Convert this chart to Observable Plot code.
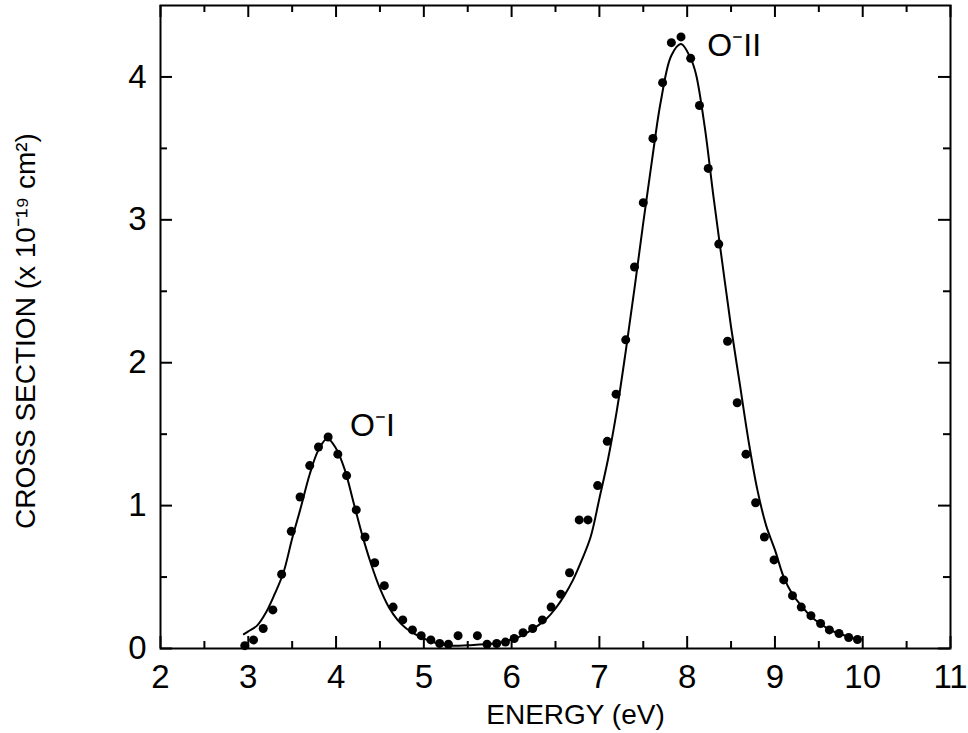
<!DOCTYPE html>
<html><head><meta charset="utf-8">
<script src="https://cdn.jsdelivr.net/npm/d3@7"></script>
<script src="https://cdn.jsdelivr.net/npm/@observablehq/plot@0.6"></script>
<style>body{margin:0;background:#fff;}</style>
</head><body><div id="chart"></div>
<script>
// Measured points (energy in eV, cross section in 1e-19 cm^2)
const dotEnergy = [2.96,3.06,3.17,3.28,3.38,3.49,3.59,3.70,3.80,3.91,4.02,4.12,4.23,4.33,4.44,4.55,4.65,4.76,4.87,4.97,5.08,5.18,5.28,5.39,5.61,5.72,5.83,5.93,6.03,6.13,6.24,6.35,6.45,6.56,6.66,6.77,6.87,6.98,7.09,7.19,7.30,7.40,7.50,7.61,7.72,7.82,7.93,8.04,8.14,8.24,8.36,8.46,8.57,8.67,8.78,8.88,8.99,9.10,9.20,9.30,9.41,9.52,9.62,9.73,9.84,9.94];
const dotSigma  = [0.02,0.06,0.14,0.27,0.52,0.82,1.06,1.28,1.41,1.48,1.36,1.21,0.97,0.78,0.60,0.44,0.29,0.20,0.13,0.09,0.06,0.035,0.03,0.09,0.09,0.03,0.035,0.045,0.07,0.11,0.14,0.20,0.29,0.38,0.53,0.90,0.90,1.14,1.45,1.78,2.16,2.67,3.12,3.57,3.96,4.24,4.28,4.13,3.80,3.36,2.83,2.15,1.72,1.36,1.02,0.78,0.62,0.48,0.37,0.29,0.23,0.175,0.13,0.105,0.077,0.063];

// Fitted curve
const fitEnergy = [2.95,3.0,3.1,3.2,3.3,3.4,3.5,3.6,3.7,3.8,3.9,4.0,4.1,4.2,4.3,4.4,4.5,4.6,4.7,4.8,4.9,5.0,5.1,5.2,5.3,5.4,5.5,5.6,5.7,5.8,5.9,6.0,6.1,6.2,6.3,6.4,6.5,6.6,6.7,6.8,6.9,7.0,7.1,7.2,7.3,7.4,7.5,7.6,7.7,7.82,7.93,8.04,8.1,8.2,8.3,8.4,8.5,8.6,8.7,8.8,8.9,9.0,9.1,9.2,9.3,9.4,9.5,9.6,9.7,9.8,9.9,9.97];
const fitSigma  = [0.10,0.12,0.16,0.25,0.38,0.53,0.77,0.99,1.22,1.39,1.47,1.40,1.25,1.02,0.79,0.59,0.42,0.29,0.20,0.14,0.10,0.07,0.045,0.03,0.02,0.02,0.022,0.026,0.03,0.035,0.045,0.065,0.085,0.12,0.16,0.21,0.28,0.37,0.48,0.62,0.78,1.05,1.33,1.67,2.08,2.52,2.98,3.42,3.83,4.15,4.23,4.13,4.02,3.65,3.16,2.70,2.25,1.85,1.45,1.11,0.86,0.69,0.50,0.38,0.30,0.23,0.18,0.14,0.11,0.09,0.07,0.056];

// Ticks
const xMajorTicks = [2,3,4,5,6,7,8,9,10,11];
const xMinorTicks = [2.5,3.5,4.5,5.5,6.5,7.5,8.5,9.5,10.5];
const yMajorTicks = [0,1,2,3,4];
const yMinorTicks = [0.5,1.5,2.5,3.5];

// Labels
const xLabel = "ENERGY (eV)";
const yLabel = "CROSS SECTION (x 10\u207B\u00B9\u2079 cm\u00B2)";
const annotationText = ["O\u207BI", "O\u207BII"];
const annotationEnergy = [4.16, 8.23];
const annotationSigma = [1.56, 4.22];

const dots = dotEnergy.map((e, i) => ({e, s: dotSigma[i]}));
const fit = fitEnergy.map((e, i) => ({e, s: fitSigma[i]}));
const notes = annotationText.map((t, i) => ({t, e: annotationEnergy[i], s: annotationSigma[i]}));

const W = 968, H = 733, mt = 5, mb = 85, ml = 160, mr = 18;
const innerH = H - mt - mb, innerW = W - ml - mr;
const major = 12, minor = 7;

const chart = Plot.plot({
  width: W, height: H,
  marginTop: mt, marginBottom: mb, marginLeft: ml, marginRight: mr,
  x: {domain: [2, 11]},
  y: {domain: [0, 4.5]},
  style: {fontFamily: "'Liberation Sans', Arial, sans-serif", color: "#000", background: "#fff"},
  marks: [
    Plot.ruleX(xMajorTicks, {x: d => d, insetTop: innerH - major, strokeWidth: 2}),
    Plot.ruleX(xMajorTicks, {x: d => d, insetBottom: innerH - major, strokeWidth: 2}),
    Plot.ruleX(xMinorTicks, {x: d => d, insetTop: innerH - minor, strokeWidth: 2}),
    Plot.ruleX(xMinorTicks, {x: d => d, insetBottom: innerH - minor, strokeWidth: 2}),
    Plot.ruleY(yMajorTicks, {y: d => d, insetRight: innerW - major, strokeWidth: 2}),
    Plot.ruleY(yMajorTicks, {y: d => d, insetLeft: innerW - major, strokeWidth: 2}),
    Plot.ruleY(yMinorTicks, {y: d => d, insetRight: innerW - minor, strokeWidth: 2}),
    Plot.ruleY(yMinorTicks, {y: d => d, insetLeft: innerW - minor, strokeWidth: 2}),
    Plot.axisX({ticks: xMajorTicks, tickSize: 0, tickPadding: 16, fontSize: 33, label: null, tickFormat: d => String(d)}),
    Plot.axisY({ticks: yMajorTicks, tickSize: 0, tickPadding: 14, fontSize: 33, label: null, tickFormat: d => String(d)}),
    Plot.frame({stroke: "#000", strokeWidth: 2}),
    Plot.line(fit, {x: "e", y: "s", curve: "catmull-rom", stroke: "#000", strokeWidth: 2}),
    Plot.dot(dots, {x: "e", y: "s", r: 4.5, fill: "#000", stroke: "none"}),
    Plot.text(notes, {x: "e", y: "s", text: "t", textAnchor: "start", fontSize: 32, fill: "#000"}),
    Plot.text([xLabel], {text: d => d, frameAnchor: "bottom", lineAnchor: "top", dy: 56, dx: 20, fontSize: 28, fill: "#000"}),
    Plot.text([yLabel], {text: d => d, frameAnchor: "left", textAnchor: "middle", rotate: -90, dx: -134, dy: 4, fontSize: 28, fill: "#000"})
  ]
});
document.getElementById("chart").appendChild(chart);
</script>
</body></html>
